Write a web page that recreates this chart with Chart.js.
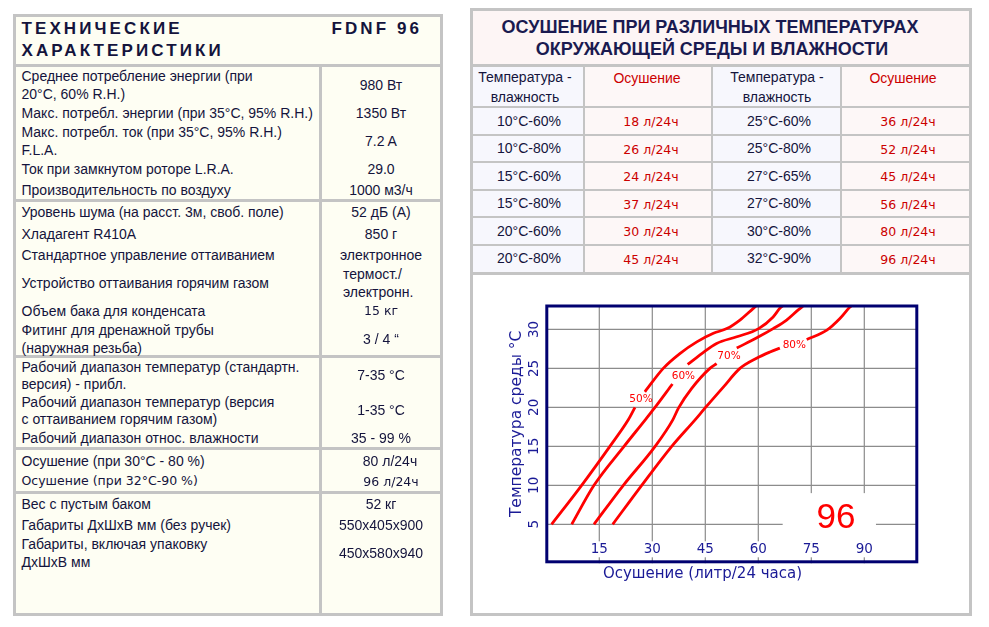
<!DOCTYPE html>
<html>
<head>
<meta charset="utf-8">
<script src="https://cdn.jsdelivr.net/npm/chart.js@4.4.1/dist/chart.umd.min.js"></script>
<style>
html, body { margin: 0; padding: 0; background: #fff; width: 989px; height: 627px; overflow: hidden; font-family: 'Liberation Sans', Arial, sans-serif; }
.box { position: absolute; box-sizing: border-box; }
.ln { position: absolute; background: #c4c4c4; }
.t { position: absolute; white-space: nowrap; height: 18px; line-height: 18px; font-size: 14px; color: #14143c; }
.v { font-family: 'DejaVu Sans', Verdana, sans-serif; font-size: 12.5px; }
.red { color: #cc0000; }
.hd { font-weight: bold; font-size: 17px; letter-spacing: 3.1px; color: #14143c; height: 22px; line-height: 22px; }
.hd2 { font-weight: bold; font-size: 18px; color: #1a1a50; height: 22px; line-height: 22px; }
#chartWrap { position: absolute; left: 474px; top: 276px; width: 494px; height: 336px; }
</style>
</head>
<body>
<div class="box" id="left" style="left:13px;top:14px;width:430px;height:602px;border:3px solid #c4c4c4;background:#fefef3;"></div>
<div class="box" id="right" style="left:470px;top:8px;width:502px;height:608px;border:3px solid #c4c4c4;background:#fff;"></div>
<div id="chartWrap"><canvas id="chart"></canvas></div>

<script>
// --- chart data: dehumidification (l/24h) vs ambient temperature (°C) ---
const xTicks = [15, 30, 45, 60, 75, 90];
const yTicks = [5, 10, 15, 20, 25, 30];

const dry50 = [1.5, 10.0, 18.0, 23.2, 25.1, 26.5, 27.9, 33.1, 37.8, 42.6, 47.3, 51.1, 54.8, 58.6, 59.4];
const temp50 = [5, 10, 15, 18.4, 20.0, null, 22.0, 25.0, 26.9, 28.4, 29.5, 30.1, 31.2, 32.7, 33];

const dry60 = [7.2, 13.5, 22.0, 28.0, 30.6, 35.7, 37.8, 40.0, 44.0, 48.2, 53.9, 60.1, 64.2, 66.1, 66.9];
const temp60 = [5, 10, 15, 18.4, 19.9, 23.0, null, 25.5, 26.9, 28.2, 29.05, 30.1, 31.6, 32.7, 33];

const dry70 = [13.5, 21.8, 30.8, 35.8, 37.4, 41.1, 46.3, 48.2, 51.0, 53.9, 60.1, 64.2, 68.0, 71.3, 72.7];
const temp70 = [5, 10, 15, 18.4, 19.9, 22.4, 25.0, 25.6, null, 27.6, 29.05, 30.1, 31.2, 32.5, 33];

const dry80 = [18.8, 27.0, 35.5, 42.1, 44.9, 50.1, 54.8, 59.5, 63.3, 66.1, 70.0, 73.7, 79.4, 83.1, 86.0, 86.3];
const temp80 = [5, 10, 15, 18.4, 19.9, 22.6, 25.0, 26.3, 27.1, 27.6, null, 28.7, 29.9, 31.4, 32.9, 33];

const curveNames = ['50%', '60%', '70%', '80%'];
const labelDry = [26.8, 38.8, 51.7, 70.2];
const labelTemp = [21.0, 24.0, 26.6, 28.0];

const modelNumber = '96';
const xTitle = 'Осушение (литр/24 часа)';
const yTitle = 'Температура среды °C';

// --- left spec table ---
const specLabels = [
  ['Среднее потребление энергии (при', 76], ['20°C, 60% R.H.)', 94],
  ['Макс. потребл. энергии (при 35°C, 95% R.H.)', 113],
  ['Макс. потребл. ток (при 35°C, 95% R.H.)', 132], ['F.L.A.', 150],
  ['Ток при замкнутом роторе  L.R.A.', 169],
  ['Производительность по воздуху', 190],
  ['Уровень шума (на расст. 3м, своб. поле)', 212],
  ['Хладагент R410A', 234],
  ['Стандартное управление оттаиванием', 255],
  ['Устройство оттаивания горячим газом', 283],
  ['Объем бака для конденсата', 311],
  ['Фитинг для дренажной трубы', 330], ['(наружная резьба)', 348],
  ['Рабочий диапазон температур (стандартн.', 367], ['версия) - прибл.', 384],
  ['Рабочий диапазон температур (версия', 402], ['с оттаиванием горячим газом)', 419],
  ['Рабочий диапазон относ. влажности', 438],
  ['Осушение (при 30°C - 80 %)', 461],
  ['Осушение (при 32°C-90 %)', 481, 'v'],
  ['Вес с пустым баком', 504],
  ['Габариты ДхШхВ мм (без ручек)', 525],
  ['Габариты, включая упаковку', 544], ['ДхШхВ мм', 562]
];
const specValues = [
  ['980 Вт', 85], ['1350 Вт', 113], ['7.2 A', 141], ['29.0', 169], ['1000 м3/ч', 190],
  ['52 дБ (А)', 212], ['850 г', 234], ['электронное', 255],
  ['15  кг', 311, 'v'], ['3 / 4 “', 339],
  ['7-35 °C', 375], ['1-35 °C', 410], ['35 - 99 %', 438],
  ['52 кг', 504], ['550x405x900', 525], ['450x580x940', 553]
];

// --- right table ---
const tableTemps = [['10°C-60%', '25°C-60%'], ['10°C-80%', '25°C-80%'], ['15°C-60%', '27°C-65%'],
                    ['15°C-80%', '27°C-80%'], ['20°C-60%', '30°C-80%'], ['20°C-80%', '32°C-90%']];
const tableDry = [['18 л/24ч', '36 л/24ч'], ['26 л/24ч', '52 л/24ч'], ['24 л/24ч', '45 л/24ч'],
                  ['37 л/24ч', '56 л/24ч'], ['30 л/24ч', '80 л/24ч'], ['45 л/24ч', '96 л/24ч']];

function put(text, x, cy, align, cls) {
  const d = document.createElement('div');
  d.className = 't' + (cls ? ' ' + cls : '');
  d.textContent = text;
  d.style.top = (cy - 9) + 'px';
  if (align === 'c') { d.style.left = (x - 300) + 'px'; d.style.width = '600px'; d.style.textAlign = 'center'; }
  else d.style.left = x + 'px';
  document.body.appendChild(d);
  return d;
}
function rect(l, t, w, h, color) {
  const d = document.createElement('div');
  d.className = 'ln';
  d.style.cssText = `left:${l}px;top:${t}px;width:${w}px;height:${h}px;` + (color ? `background:${color};` : '');
  document.body.appendChild(d);
}

// left panel
rect(16, 63.5, 424, 3);
[199, 355, 447, 491].forEach(y => rect(16, y, 424, 2.5));
rect(319, 66, 2.5, 547);
const h1 = put('ТЕХНИЧЕСКИЕ', 21.5, 29, 'l', 'hd'); h1.style.top = '18px';
const h2 = put('ХАРАКТЕРИСТИКИ', 21.5, 51, 'l', 'hd'); h2.style.top = '40px';
const h3 = put('FDNF 96', 331.5, 29, 'l', 'hd'); h3.style.top = '18px';
specLabels.forEach(([t, y, c]) => put(t, 21.5, y, 'l', c));
specValues.forEach(([t, y, c]) => put(t, 381, y, 'c', c));
put('термост./', 343, 274);
put('электронн.', 343, 292);
put('80 л/24ч', 390, 461, 'c');
put('96 л/24ч', 391, 482, 'c', 'v');

// right panel
rect(473, 11, 496, 53, '#fdf5f5');
rect(473, 66.5, 111, 206, '#f7f7fd');
rect(584, 66.5, 128, 206, '#fdf7f7');
rect(712, 66.5, 129, 206, '#f7f7fd');
rect(841, 66.5, 128, 206, '#fdf7f7');
rect(473, 63.5, 496, 3);
[106, 133.5, 161, 188.5, 216, 243.5].forEach(y => rect(473, y, 496, 2));
rect(473, 272, 496, 3);
[583, 711, 840].forEach(x => rect(x, 66.5, 2, 206));
const r1 = put('ОСУШЕНИЕ ПРИ РАЗЛИЧНЫХ ТЕМПЕРАТУРАХ', 710, 27, 'c', 'hd2'); r1.style.top = '16px';
const r2 = put('ОКРУЖАЮЩЕЙ СРЕДЫ И ВЛАЖНОСТИ', 712, 49, 'c', 'hd2'); r2.style.top = '38px';
[525, 777].forEach(x => { put('Температура -', x, 77, 'c'); put('влажность', x, 97, 'c'); });
[647, 903].forEach(x => put('Осушение', x, 78, 'c', 'red'));
tableTemps.forEach((row, i) => {
  const cy = 120.7 + i * 27.5;
  put(row[0], 529, cy, 'c');
  put(row[1], 779, cy, 'c');
  put(tableDry[i][0], 651, cy + 1.5, 'c', 'v red');
  put(tableDry[i][1], 908, cy + 1.5, 'c', 'v red');
});

// chart
const axisColor = '#1a1a96';
const chartDecor = {
  id: 'chartDecor',
  beforeDatasetsDraw(chart) {
    const { ctx, chartArea: a, scales: { x, y } } = chart;
    ctx.save();
    ctx.strokeStyle = '#8c8c8c';
    ctx.lineWidth = 1.2;
    ctx.beginPath();
    xTicks.forEach(v => { const px = x.getPixelForValue(v); ctx.moveTo(px, a.top); ctx.lineTo(px, a.bottom); });
    yTicks.forEach(v => { const py = y.getPixelForValue(v); ctx.moveTo(a.left, py); ctx.lineTo(a.right, py); });
    ctx.stroke();
    // white box holding the model number
    const bx0 = x.getPixelForValue(66.9), bx1 = x.getPixelForValue(93.3);
    const by0 = y.getPixelForValue(9.0), by1 = y.getPixelForValue(2.8);
    ctx.fillStyle = '#fff';
    ctx.fillRect(bx0, by0, bx1 - bx0, by1 - by0);
    ctx.fillStyle = '#ff0000';
    ctx.font = '35px "Liberation Sans", Arial, sans-serif';
    ctx.textAlign = 'center';
    ctx.textBaseline = 'middle';
    ctx.fillText(modelNumber, x.getPixelForValue(82.0), y.getPixelForValue(5.8));
    ctx.restore();
  },
  afterDatasetsDraw(chart) {
    const { ctx, chartArea: a, scales: { x, y } } = chart;
    ctx.save();
    ctx.textAlign = 'center';
    ctx.textBaseline = 'middle';
    // curve labels
    ctx.font = '10.5px "DejaVu Sans", Verdana, sans-serif';
    ctx.fillStyle = '#ff0000';
    curveNames.forEach((n, i) => ctx.fillText(n, x.getPixelForValue(labelDry[i]), y.getPixelForValue(labelTemp[i])));
    // x tick labels inside frame
    ctx.font = '13.5px "DejaVu Sans", Verdana, sans-serif';
    xTicks.forEach(v => {
      const px = x.getPixelForValue(v), py = a.bottom - 14;
      const w = ctx.measureText(String(v)).width + 6;
      ctx.fillStyle = '#fff';
      ctx.fillRect(px - w / 2, py - 8, w, 16);
      ctx.fillStyle = axisColor;
      ctx.fillText(String(v), px, py + 0.5);
    });
    // y tick labels, rotated
    yTicks.forEach(v => {
      ctx.save();
      ctx.translate(a.left - 11.5, y.getPixelForValue(v));
      ctx.rotate(-Math.PI / 2);
      ctx.fillStyle = axisColor;
      ctx.fillText(String(v), 0, 0);
      ctx.restore();
    });
    // frame
    ctx.strokeStyle = '#000070';
    ctx.lineWidth = 3;
    ctx.strokeRect(a.left + 0.5, a.top, a.right - a.left - 1, a.bottom - a.top - 1.5);
    // axis titles
    ctx.fillStyle = axisColor;
    ctx.font = '15px "DejaVu Sans", Verdana, sans-serif';
    ctx.fillText(xTitle, x.getPixelForValue(44.2), a.bottom + 11);
    ctx.font = '15.5px "DejaVu Sans", Verdana, sans-serif';
    ctx.save();
    ctx.translate(a.left - 29.5, (y.getPixelForValue(5) + y.getPixelForValue(30)) / 2 - 3);
    ctx.rotate(-Math.PI / 2);
    ctx.fillText(yTitle, 0, 0);
    ctx.restore();
    ctx.restore();
  }
};

const series = [[dry50, temp50], [dry60, temp60], [dry70, temp70], [dry80, temp80]];
new Chart(document.getElementById('chart'), {
  type: 'line',
  data: {
    datasets: series.map(([xs, ys], i) => ({
      label: curveNames[i],
      data: xs.map((v, j) => ({ x: v, y: ys[j] })),
      borderColor: '#ff0000',
      borderWidth: 2.8,
      pointRadius: 0,
      fill: false,
      spanGaps: false,
      cubicInterpolationMode: 'monotone'
    }))
  },
  options: {
    responsive: true,
    maintainAspectRatio: false,
    animation: false,
    layout: { padding: { left: 72.3, top: 30, right: 50.7, bottom: 48.7 } },
    plugins: { legend: { display: false }, tooltip: { enabled: false } },
    scales: {
      x: { type: 'linear', min: 0, max: 105, display: false },
      y: { type: 'linear', min: 0, max: 33, display: false }
    }
  },
  plugins: [chartDecor]
});
</script>
</body>
</html>
